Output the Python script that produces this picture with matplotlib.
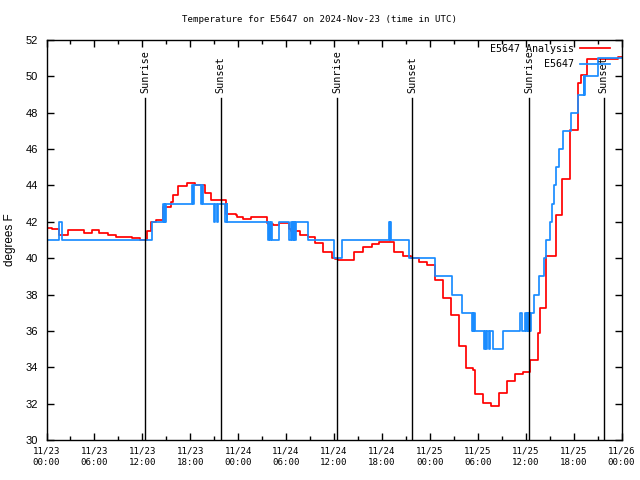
import matplotlib
matplotlib.use('Agg')
import matplotlib.pyplot as plt
from matplotlib.ticker import MultipleLocator

# hours since 2024-11-23 00:00 UTC, step values (degrees F)
analysis_hours = [0.0, 0.7, 1.55, 1.8, 2.7, 4.7, 5.7, 6.55, 7.7, 8.7, 10.7, 11.7,
                  12.55, 13.1, 13.7, 14.55, 15.55, 15.8, 16.45, 17.6, 18.65, 19.8,
                  20.65, 22.45, 23.7, 23.85, 24.6, 25.65, 27.55, 27.75, 28.35, 29.1,
                  30.35, 30.65, 31.7, 32.75, 33.6, 34.65, 35.7, 36.1, 36.5, 38.45,
                  39.65, 40.7, 41.65, 43.55, 44.6, 45.7, 46.65, 47.6, 48.7, 49.65,
                  50.7, 51.65, 52.55, 53.4, 53.6, 54.65, 55.7, 56.6, 57.65, 58.7,
                  59.65, 60.55, 61.55, 61.75, 62.6, 63.75, 64.6, 65.5, 66.55, 66.9,
                  67.7, 71.55, 72.0]
analysis_temp = [41.68, 41.6, 41.3, 41.25, 41.53, 41.39, 41.53, 41.37, 41.3, 41.15, 41.09, 41.02,
                 41.5, 42.0, 42.1, 42.8, 43.1, 43.5, 43.95, 44.15, 44.0, 43.57,
                 43.2, 42.45, 42.35, 42.28, 42.13, 42.25, 41.95, 41.9, 41.82, 41.95,
                 41.6, 41.5, 41.27, 41.15, 40.82, 40.36, 40.03, 39.95, 39.9, 40.32,
                 40.6, 40.78, 40.87, 40.32, 40.12, 40.0, 39.8, 39.62, 38.8, 37.8,
                 36.87, 35.17, 33.94, 33.85, 32.53, 32.02, 31.87, 32.6, 33.26, 33.61,
                 33.76, 34.4, 35.87, 37.24, 40.12, 42.37, 44.35, 47.05, 49.65, 50.1,
                 50.94, 51.08, 51.08]

obs_hours = [0.0, 0.1, 1.55, 1.95, 13.2, 14.6, 14.7, 14.8, 14.85, 14.95,
             18.2, 18.35, 18.45, 19.35, 19.45, 19.65, 20.95, 21.15, 21.35, 21.5,
             22.4, 22.55, 22.65, 27.75, 27.9, 28.0, 28.1, 28.25, 29.15, 30.4,
             30.6, 30.7, 30.9, 31.0, 31.05, 31.15, 31.25, 32.75, 36.0, 37.0,
             42.9, 42.95, 43.0, 43.1, 45.4, 48.7, 50.75, 52.0, 53.25, 53.35,
             53.45, 53.5, 53.6, 54.75, 54.9, 55.05, 55.2, 55.4, 55.5, 55.85,
             57.15, 59.3, 59.55, 59.9, 60.0, 60.15, 60.25, 60.35, 60.45, 60.5,
             60.6, 60.7, 61.05, 61.7, 62.3, 62.5, 63.1, 63.35, 63.55, 63.75,
             64.15, 64.65, 65.7, 66.55, 67.25, 67.35, 67.45, 69.1, 72.0]
obs_temp = [42, 41, 42, 41, 42, 43, 42, 43, 42, 43,
            44, 43, 44, 43, 44, 43, 42, 43, 42, 43,
            42, 43, 42, 41, 42, 41, 42, 41, 42, 41,
            42, 41, 42, 41, 42, 41, 42, 41, 40, 41,
            42, 41, 42, 41, 40, 39, 38, 37, 36, 37,
            36, 37, 36, 35, 36, 35, 36, 35, 36, 35,
            36, 37, 36, 37, 36, 37, 36, 37, 36, 37,
            36, 37, 38, 39, 40, 41, 42, 43, 44, 45,
            46, 47, 48, 49, 50, 49, 50, 51, 51]

sun_hours = [12.37, 21.79, 36.41, 45.79, 60.41, 69.79]
sun_labels = ['Sunrise', 'Sunset', 'Sunrise', 'Sunset', 'Sunrise', 'Sunset']

tick_hours = list(range(0, 73, 6))
tick_labels = ['11/23\n00:00', '11/23\n06:00', '11/23\n12:00', '11/23\n18:00',
               '11/24\n00:00', '11/24\n06:00', '11/24\n12:00', '11/24\n18:00',
               '11/25\n00:00', '11/25\n06:00', '11/25\n12:00', '11/25\n18:00',
               '11/26\n00:00']

mono = 'DejaVu Sans Mono'
sans = 'Liberation Sans'

fig = plt.figure(figsize=(6.4, 4.8), dpi=100)
ax = fig.add_axes([46.5 / 640, 40 / 480, 575 / 640, 400 / 480])

ax.step(analysis_hours, analysis_temp, where='post', color='#ff0000', lw=1.25,
        label='E5647 Analysis')
ax.step(obs_hours, obs_temp, where='post', color='#1a8cff', lw=1.25, label='E5647')

for t, lab in zip(sun_hours, sun_labels):
    ax.axvline(t, ymin=0, ymax=0.855, color='black', lw=1.0)
    ax.text(t, 0.868, lab, rotation=90, ha='center', va='bottom',
            transform=ax.get_xaxis_transform(), family=mono, fontsize=7.3)

ax.set_xlim(0, 72)
ax.set_ylim(30, 52)
ax.set_xticks(tick_hours)
ax.set_xticklabels(tick_labels, family=mono, fontsize=6.6, linespacing=1.25)
ax.xaxis.set_minor_locator(MultipleLocator(3))
ax.yaxis.set_major_locator(MultipleLocator(2))
for lab in ax.get_yticklabels():
    lab.set_family(sans)
    lab.set_fontsize(8)
ax.tick_params(which='both', direction='in', top=True, right=True, width=1.0)
ax.tick_params(which='major', length=5, pad=5)
ax.tick_params(which='minor', length=3)
ax.tick_params(axis='y', pad=6)
for sp in ax.spines.values():
    sp.set_linewidth(1.0)

ax.set_ylabel('degrees F', family=sans, fontsize=8.5, labelpad=7)
fig.text(0.5, 1 - 19 / 480, 'Temperature for E5647 on 2024-Nov-23 (time in UTC)',
         ha='center', va='center', family=mono, fontsize=6.6)

ax.legend(loc='upper right', bbox_to_anchor=(0.98, 0.99), frameon=False,
          markerfirst=False, prop={'family': mono, 'size': 7.2},
          handlelength=3.0, handletextpad=0.6, labelspacing=0.55,
          borderpad=0, borderaxespad=0)

fig.savefig('out.png', dpi=100)
